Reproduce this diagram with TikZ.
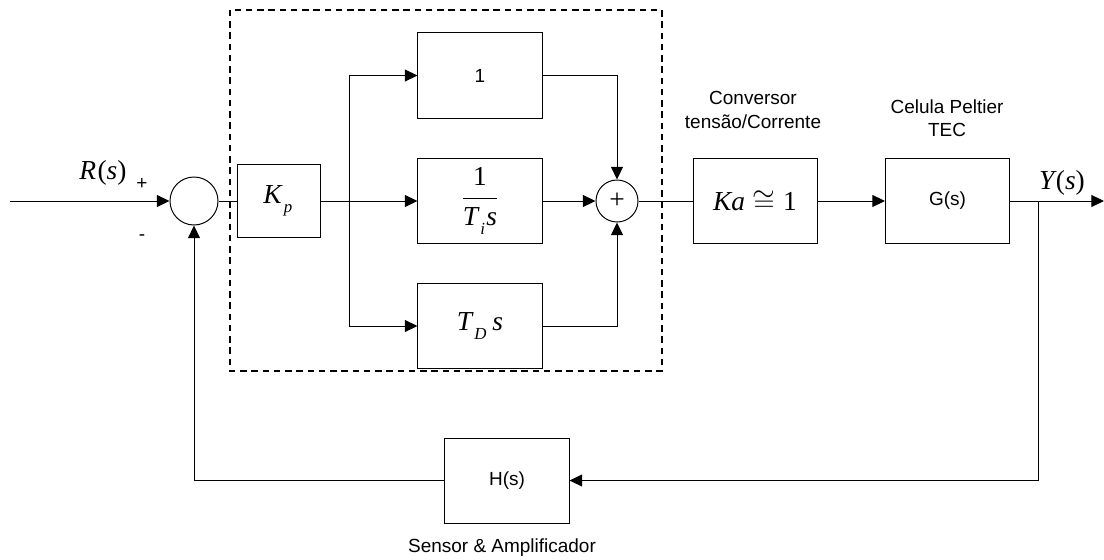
\documentclass[tikz,border=0pt]{standalone}
\usepackage{fontspec}
\setmainfont{Liberation Sans}
\newfontfamily\tmfont{Liberation Serif}
\usetikzlibrary{arrows.meta}
\newcommand\tmi[1]{{\tmfont\itshape #1}}
\newcommand\tmsub[1]{\kern1.5pt\raisebox{-0.6ex}{\fontsize{12}{12}\selectfont\tmfont\itshape #1}\kern1pt}
\tikzset{
    myblock/.style = {rectangle, draw=black, line width=0.7pt, align=center, minimum width=3.1cm, minimum height=2.125cm, inner sep=0pt, font=\fontsize{13.5}{15}\selectfont},
    mymath/.style = {font=\fontsize{19.5}{21}\selectfont},
    mysum/.style = {circle, draw=black, line width=0.7pt, inner sep=0pt},
    mylabel/.style = {align=center, font=\fontsize{13.5}{16.5}\selectfont},
    edgen/.style = {-, line width=0.7pt, black},
    edgea/.style = {-{Triangle[length=9pt,width=8.5pt]}, line width=0.7pt, black},
    edged/.style = {line width=1.2pt, black, dash pattern=on 4.5pt off 3.5pt} % controller frame
}
\begin{document}
\begin{tikzpicture}[x=0.025cm, y=-0.025cm]
  \useasboundingbox (0,0) rectangle (1104,559);

  % controller frame
  \draw[edged] (230,10) rectangle (662,371);

  % summing junctions
  \node[mysum, minimum size=1.2cm] (sum1) at (194,201) {};
  \node[mysum, minimum size=1.05cm, mymath] (sum2) at (617,201) {\tmfont +};

  % blocks
  \node[myblock, mymath, minimum width=2.075cm, minimum height=1.825cm] (kp) at (278.5,201) {\tmi{K}\tmsub{p}};
  \node[myblock] (one) at (480,75.5) {1};
  \node[myblock, mymath] (ti) at (480,201) {$\displaystyle\frac{\mbox{\tmfont 1}}{\mbox{\tmi{T}\tmsub{i}\tmi{s}}}$};
  \node[myblock, mymath] (td) at (480,326) {\tmi{T}\tmsub{D}\,\tmi{s}};
  \node[myblock, mymath] (ka) at (755,201) {\tmi{Ka} $\cong$ {\tmfont 1}};
  \node[myblock] (g) at (947.5,201) {G(s)};
  \node[myblock] (h) at (507,480.5) {H(s)};

  % labels
  \node[mymath] (rs) at (103,173) {\tmi{R}\kern1pt{\tmfont(}\tmi{s}{\tmfont)}};
  \node[mylabel] (plus) at (142,184) {+};
  \node[mylabel] (minus) at (142,238) {-};
  \node[mymath] (ys) at (1062,183) {\tmi{Y}\kern1pt{\tmfont(}\tmi{s}{\tmfont)}};
  \node[mylabel] (conv) at (753,110) {Conversor\\tensão/Corrente};
  \node[mylabel] (tec) at (947,118) {Celula Peltier\\TEC};
  \node[mylabel] (sens) at (502,548) {Sensor \& Amplificador};

  % points
  \coordinate (in) at (10,201);
  \coordinate (br) at (349,201);
  \coordinate (out) at (1104,201);
  \coordinate (fb) at (1038,201);

  % forward path
  \draw[edgea] (in) -- (sum1.west);
  \draw[edgen] (sum1.east) -- (kp.west);
  \draw[edgea] (kp.east) -- (ti.west);
  \draw[edgea] (br) |- (one.west);
  \draw[edgea] (br) |- (td.west);
  \draw[edgea] (one.east) -| (sum2.north);
  \draw[edgea] (ti.east) -- (sum2.west);
  \draw[edgea] (td.east) -| (sum2.south);
  \draw[edgen] (sum2.east) -- (ka.west);
  \draw[edgea] (ka.east) -- (g.west);
  \draw[edgea] (g.east) -- (out);

  % feedback path
  \draw[edgea] (fb) |- (h.east);
  \draw[edgea] (h.west) -| (sum1.south);
\end{tikzpicture}
\end{document}
